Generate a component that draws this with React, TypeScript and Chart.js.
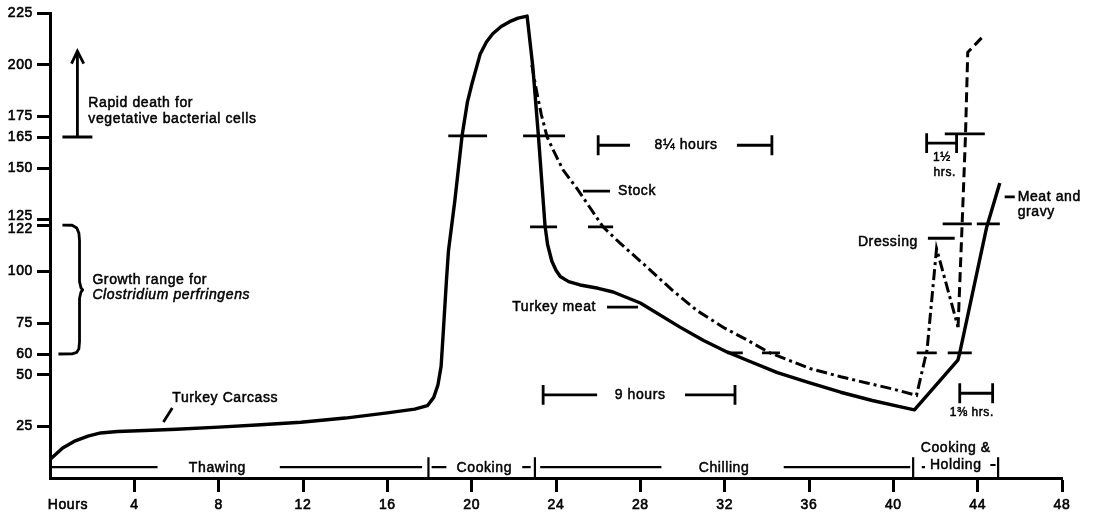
import { useEffect, useRef } from 'react';
import { Chart, registerables } from 'chart.js';

Chart.register(...registerables);

type Pt = [number, number];

const FONT = '"Liberation Sans", Arial, Helvetica, sans-serif';

// Axis ticks
const xTickValues = [0.85, 4, 8, 12, 16, 20, 24, 28, 32, 36, 40, 44, 48];
const xTickLabels = ['Hours', '4', '8', '12', '16', '20', '24', '28', '32', '36', '40', '44', '48'];
const yTickValues = [25, 50, 60, 75, 100, 122, 125, 150, 165, 175, 200, 225];

// Series: [hour, temperature °F]
const turkeyMeat: Pt[] = [
  [0, 9], [0.6, 14.5], [1.2, 18], [1.8, 20.3], [2.4, 21.8], [3.2, 22.5], [4.5, 23], [6, 23.6],
  [8, 24.6], [10, 25.8], [11.9, 27], [14, 29], [16, 31.5], [17.3, 33.3], [17.9, 35], [18.2, 39],
  [18.4, 45], [18.55, 54], [18.65, 70], [18.8, 95], [18.9, 110], [19.2, 134], [19.55, 166],
  [19.8, 182], [20.02, 191], [20.4, 205], [20.7, 211], [21.0, 215], [21.4, 218.5], [21.8, 220.8],
  [22.2, 222.5], [22.63, 223.5], [22.9, 199], [23.17, 165], [23.35, 140], [23.48, 122],
  [23.6, 113], [23.8, 105], [24.0, 100.5], [24.2, 97.5], [24.6, 95], [25.14, 93.4], [26, 91.8],
  [26.71, 90], [28, 84.7], [29.88, 73], [31, 66.5], [32.11, 61], [33.06, 57], [34.5, 51],
  [36.04, 46], [37.5, 41.5], [39, 37.5], [40.3, 34.5], [41, 33], [43.06, 57], [43.15, 60.5],
  [44.43, 121.5], [45.05, 142.7],
];

const stockAndDressing: Pt[] = [
  [22.85, 200], [23.1, 186], [23.3, 176], [23.58, 165], [23.9, 158], [24.34, 149], [25.0, 140],
  [25.6, 131], [26.23, 121.5], [27.0, 114], [28.32, 102], [29.5, 91], [30.69, 81], [32, 72.5],
  [33.06, 66.8], [34.15, 60.5], [36.04, 53], [37.5, 49], [38.74, 46], [40, 43], [41.1, 40],
  [41.6, 62], [42.05, 111], [43.07, 73],
];

const dressingReheat: Pt[] = [
  [43.07, 73], [43.26, 122], [43.42, 165], [43.53, 206], [44.19, 213],
];

// Annotation geometry, in hours / °F
const crossMarks: [number, number, number][] = [
  [18.89, 20.73, 165.5], [22.44, 24.43, 165.5],
  [22.77, 24.05, 121.5], [25.52, 26.71, 121.5],
  [32.11, 32.86, 60.5], [33.77, 34.62, 60.5],
  [41.11, 42.06, 60.5], [42.58, 43.72, 60.5],
  [42.34, 43.72, 123], [43.96, 45.05, 123],
  [42.44, 44.34, 166.5],
];

const spanLines: [number, number, number][] = [
  [26.0, 27.51, 161], [32.58, 34.24, 161],
  [23.39, 25.95, 40.2], [30.12, 32.49, 40.2],
  [41.58, 43.0, 162],
  [43.15, 44.71, 41],
];
const spanCaps: Pt[] = [
  [26.0, 161], [34.24, 161], [23.39, 40.2], [32.49, 40.2],
  [41.58, 162], [43.0, 162], [43.15, 41], [44.71, 41],
];

const leaderLines: [Pt, Pt][] = [
  [[5.38, 27.1], [5.8, 33.9]],
  [[26.42, 82.7], [27.89, 82.7]],
  [[25.28, 138.8], [26.56, 138.8]],
  [[45.28, 136], [45.76, 136]],
  [[41.64, 116], [42.91, 116]],
];

const phaseLines: [number, number, number][] = [
  [0, 5.1, 5.3], [10.9, 17.65, 5.3], [18.1, 18.8, 5.3], [22.4, 22.8, 5.3],
  [23.25, 29.0, 5.3], [34.8, 40.8, 5.3], [41.35, 41.5, 5.3], [44.6, 44.85, 6.3],
];
const phaseDividers: number[] = [17.95, 23.0, 40.94, 44.97];

const deathBar: [number, number, number] = [0.59, 2.01, 165];
const deathArrow: Pt[] = [[1.3, 165], [1.3, 206]];
const arrowHead: Pt[] = [[1.02, 200.5], [1.3, 206.5], [1.6, 200.5]];

const growthBrace: Pt[] = [
  [0.59, 122.4], [1.05, 122.3], [1.27, 121], [1.37, 118.5], [1.4, 115],
  [1.4, 95], [1.47, 92], [1.55, 91], [1.47, 90], [1.4, 87],
  [1.4, 66], [1.37, 62.5], [1.27, 60.8], [1.05, 60.1], [0.4, 60],
];

type Note = { text: string; hour: number; temp: number; align: CanvasTextAlign; italic?: boolean; small?: boolean };
const notes: Note[] = [
  { text: 'Rapid death for', hour: 1.82, temp: 181.4, align: 'left' },
  { text: 'vegetative bacterial cells', hour: 1.82, temp: 173.7, align: 'left' },
  { text: 'Growth range for', hour: 2.01, temp: 95.8, align: 'left' },
  { text: 'Clostridium perfringens', hour: 2.01, temp: 88.3, align: 'left', italic: true },
  { text: 'Turkey Carcass', hour: 5.8, temp: 38.7, align: 'left' },
  { text: 'Turkey meat', hour: 21.92, temp: 82.7, align: 'left' },
  { text: 'Stock', hour: 26.94, temp: 138.8, align: 'left' },
  { text: '8¼ hours', hour: 30.17, temp: 161.1, align: 'center' },
  { text: '9 hours', hour: 27.99, temp: 40.2, align: 'center' },
  { text: '1½', hour: 42.3, temp: 154.8, align: 'center', small: true },
  { text: 'hrs.', hour: 42.44, temp: 147.6, align: 'center', small: true },
  { text: '1⅜ hrs.', hour: 43.72, temp: 31.4, align: 'center', small: true },
  { text: 'Meat and', hour: 45.9, temp: 136, align: 'left' },
  { text: 'gravy', hour: 45.9, temp: 128.7, align: 'left' },
  { text: 'Dressing', hour: 38.32, temp: 114.2, align: 'left' },
  { text: 'Thawing', hour: 7.94, temp: 4.8, align: 'center' },
  { text: 'Cooking', hour: 20.6, temp: 4.8, align: 'center' },
  { text: 'Chilling', hour: 31.97, temp: 4.8, align: 'center' },
  { text: 'Cooking &', hour: 42.96, temp: 14.5, align: 'center' },
  { text: 'Holding', hour: 42.96, temp: 6.3, align: 'center' },
];

const CAP = 4.8; // half-height of span end caps, in °F

const pts = (a: Pt[]) => a.map(([x, y]) => ({ x, y }));
const segData = (segs: [Pt, Pt][]) =>
  segs.flatMap(([a, b]) => [
    { x: a[0], y: a[1] as number | null },
    { x: b[0], y: b[1] as number | null },
    { x: b[0], y: null as number | null },
  ]);

const notesPlugin = {
  id: 'notes',
  beforeDraw(chart: any) {
    chart.ctx.letterSpacing = '0.6px';
  },
  afterDatasetsDraw(chart: any) {
    const { ctx, scales } = chart;
    const xs = scales.x;
    const ys = scales.y;
    ctx.save();
    ctx.fillStyle = '#000';
    ctx.strokeStyle = '#000';
    ctx.lineWidth = 0.5;
    ctx.textBaseline = 'middle';
    for (const n of notes) {
      ctx.font = `${n.italic ? 'italic ' : ''}${n.small ? 12 : 14}px ${FONT}`;
      ctx.textAlign = n.align;
      const px = xs.getPixelForValue(n.hour);
      const py = ys.getPixelForValue(n.temp);
      ctx.fillText(n.text, px, py);
      ctx.strokeText(n.text, px, py);
    }
    ctx.restore();
  },
};

export default function App() {
  const ref = useRef<HTMLCanvasElement | null>(null);

  useEffect(() => {
    if (!ref.current) return;
    const base = {
      type: 'line' as const,
      pointRadius: 0,
      borderColor: '#000',
      fill: false,
      tension: 0,
      spanGaps: false,
      clip: false as any,
    };
    const markSegs: [Pt, Pt][] = [
      ...crossMarks.map(([a, b, t]) => [[a, t], [b, t]] as [Pt, Pt]),
      ...spanLines.map(([a, b, t]) => [[a, t], [b, t]] as [Pt, Pt]),
      ...spanCaps.map(([h, t]) => [[h, t - CAP], [h, t + CAP]] as [Pt, Pt]),
      ...leaderLines,
      [[deathBar[0], deathBar[2]], [deathBar[1], deathBar[2]]],
      [deathArrow[0], deathArrow[1]],
    ];
    const phaseSegs: [Pt, Pt][] = [
      ...phaseLines.map(([a, b, t]) => [[a, t], [b, t]] as [Pt, Pt]),
      ...phaseDividers.map((h) => [[h, 0], [h, 10]] as [Pt, Pt]),
    ];

    const tickFont = { family: FONT, size: 14 };

    const chart = new Chart(ref.current, {
      type: 'line',
      data: {
        datasets: [
          { ...base, label: 'Turkey meat', data: pts(turkeyMeat), borderWidth: 3.4, borderJoinStyle: 'round' },
          { ...base, label: 'Stock / Dressing', data: pts(stockAndDressing), borderWidth: 3, borderDash: [11, 4, 3, 4] },
          { ...base, label: 'Dressing reheat', data: pts(dressingReheat), borderWidth: 3, borderDash: [10, 5] },
          { ...base, label: 'marks', data: segData(markSegs), borderWidth: 2.8 },
          { ...base, label: 'arrow', data: pts(arrowHead), borderWidth: 2.8, borderJoinStyle: 'miter' },
          { ...base, label: 'brace', data: pts(growthBrace), borderWidth: 2.8, borderJoinStyle: 'round' },
          { ...base, label: 'phases', data: segData(phaseSegs), borderWidth: 2.2 },
        ] as any,
      },
      options: {
        responsive: false,
        animation: false,
        events: [],
        layout: { padding: { top: 13, right: 35, left: 0, bottom: 0 } },
        plugins: { legend: { display: false }, tooltip: { enabled: false } },
        scales: {
          x: {
            type: 'linear',
            min: 0,
            max: 48,
            afterBuildTicks: (s: any) => {
              s.ticks = xTickValues.map((v) => ({ value: v }));
            },
            afterFit: (s: any) => {
              s.height = 37;
            },
            ticks: {
              autoSkip: false,
              maxRotation: 0,
              padding: 5,
              color: '#000',
              textStrokeColor: '#000',
              textStrokeWidth: 0.6,
              font: tickFont,
              callback: (v: any) => {
                const i = xTickValues.indexOf(Number(v));
                return i >= 0 ? xTickLabels[i] : '';
              },
            },
            grid: {
              drawOnChartArea: false,
              drawTicks: true,
              tickLength: 14,
              tickWidth: 3,
              tickColor: (c: any) => (c.tick && c.tick.value < 1 ? 'rgba(0,0,0,0)' : '#000'),
            },
            border: { display: true, color: '#000', width: 3 },
          },
          y: {
            type: 'linear',
            min: 0,
            max: 225,
            afterBuildTicks: (s: any) => {
              s.ticks = yTickValues.map((v) => ({ value: v }));
            },
            afterFit: (s: any) => {
              s.width = 50;
            },
            ticks: {
              autoSkip: false,
              padding: 4,
              color: '#000',
              textStrokeColor: '#000',
              textStrokeWidth: 0.6,
              font: { ...tickFont, lineHeight: 0.5 },
              callback: (v: any) => {
                const n = Number(v);
                if (n === 125) return ['125', ''];
                if (n === 122) return ['', '122'];
                return String(n);
              },
            },
            grid: {
              drawOnChartArea: false,
              drawTicks: true,
              tickLength: 13,
              tickWidth: 3,
              tickColor: '#000',
            },
            border: { display: true, color: '#000', width: 3 },
          },
        },
      },
      plugins: [notesPlugin],
    });
    return () => chart.destroy();
  }, []);

  return (
    <div style={{ position: 'fixed', left: 0, top: 0, width: 1097, height: 515, background: '#fff' }}>
      <canvas ref={ref} width={1097} height={515} style={{ display: 'block' }} />
    </div>
  );
}
